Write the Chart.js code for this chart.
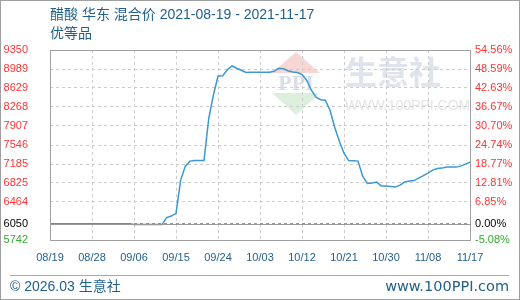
<!DOCTYPE html>
<html>
<head>
<meta charset="utf-8">
<script src="https://cdn.jsdelivr.net/npm/chart.js@4.4.1/dist/chart.umd.min.js"></script>
<style>
  html, body { margin: 0; padding: 0; background: #fff; }
  #wrap { width: 520px; height: 300px; position: relative; }
</style>
</head>
<body>
<div id="wrap"><canvas id="priceChart" width="520" height="300"></canvas></div>
<script>
// 醋酸 华东 混合价, daily price 2021-08-19 .. 2021-11-17 (day index 0..90)
const titleText = '醋酸 华东 混合价 2021-08-19 - 2021-11-17';
const subTitle = '优等品';

const xTickDays = [0, 9, 18, 27, 36, 45, 54, 63, 72, 81, 90];
const xTickLabels = ['08/19', '08/28', '09/06', '09/15', '09/24', '10/03', '10/12', '10/21', '10/30', '11/08', '11/17'];

const yTicks = [9350, 8989, 8629, 8268, 7907, 7546, 7185, 6825, 6464, 6050, 5742];
const pctLabels = ['54.56%', '48.59%', '42.63%', '36.67%', '30.70%', '24.74%', '18.77%', '12.81%', '6.85%', '0.00%', '-5.08%'];
const baseValue = 6050;

const prices = [
  6050, 6050, 6050, 6050, 6050, 6050, 6050, 6050, 6050, 6050,
  6050, 6050, 6050, 6050, 6050, 6050, 6050, 6050, 6035, 6035,
  6035, 6035, 6035, 6035, 6035, 6169, 6197, 6248, 6880, 7145,
  7240, 7253, 7253, 7253, 8036, 8491, 8851, 8861, 8975, 9047,
  9003, 8965, 8922, 8927, 8927, 8927, 8927, 8927, 8946, 9003,
  8994, 8956, 8933, 8922, 8889, 8776, 8586, 8453, 8406, 8396,
  8207, 7884, 7619, 7391, 7249, 7245, 7240, 6955, 6817, 6823,
  6842, 6766, 6766, 6756, 6747, 6785, 6842, 6861, 6870, 6917,
  6965, 7012, 7069, 7098, 7107, 7126, 7126, 7126, 7145, 7183,
  7221
];

const blue = '#1f5f8c';
const labelFont = { family: 'Liberation Sans', size: 11 };

function tickColor(ctx) {
  const v = ctx.tick.value;
  if (v > baseValue) return '#ff3333';
  if (v === baseValue) return '#000000';
  return '#33aa33';
}

const decorPlugin = {
  id: 'decor',
  beforeDraw(chart) {
    const c = chart.ctx;
    c.save();
    c.fillStyle = '#ffffff';
    c.fillRect(0, 0, chart.width, chart.height);
    // watermark logo
    c.fillStyle = '#f8d6d6';
    c.beginPath();
    c.moveTo(296, 52); c.lineTo(320, 73); c.lineTo(272, 73); c.closePath(); c.fill();
    c.fillStyle = '#dcefdc';
    c.beginPath();
    c.moveTo(272, 93); c.lineTo(320, 93); c.lineTo(296, 115); c.closePath(); c.fill();
    c.fillStyle = '#d9deea';
    c.font = 'bold 22px "Liberation Serif"';
    c.textAlign = 'center';
    c.textBaseline = 'middle';
    c.fillText('PPI', 296, 84);
    c.font = 'bold 32px "Noto Sans CJK SC"';
    c.fillStyle = '#dfe3ec';
    c.textAlign = 'left';
    c.fillText('生意社', 345, 72);
    c.font = '14px "Liberation Sans"';
    c.fillStyle = '#e4e4e4';
    c.fillText('WWW.100PPI.COM', 345, 106);
    c.restore();
  },
  afterDraw(chart) {
    const c = chart.ctx;
    const a = chart.chartArea;
    const y = chart.scales.y;
    c.save();
    // baseline at 0%
    c.strokeStyle = '#999999';
    c.lineWidth = 1;
    const by = Math.round(y.getPixelForValue(baseValue)) + 0.5;
    c.beginPath(); c.moveTo(a.left, by); c.lineTo(a.right, by); c.stroke();
    // plot frame
    c.strokeStyle = '#a0a0a0';
    c.strokeRect(Math.round(a.left) + 0.5, Math.round(a.top) + 0.5, Math.round(a.right - a.left), Math.round(a.bottom - a.top));
    // titles
    c.fillStyle = blue;
    c.font = '14px "Liberation Sans", "Noto Sans CJK SC"';
    c.textAlign = 'left';
    c.textBaseline = 'middle';
    c.fillText(titleText, 50, 15);
    c.fillText(subTitle, 50, 34);
    // footer
    c.strokeStyle = '#aaaaaa';
    c.beginPath(); c.moveTo(10, 275.5); c.lineTo(509, 275.5); c.stroke();
    c.font = '14px "Liberation Sans", "Noto Sans CJK SC"';
    c.fillText('© 2026.03 生意社', 10, 287);
    c.textAlign = 'right';
    c.font = '14.5px "DejaVu Sans"';
    c.fillText('www.100PPI.com', 509, 287);
    // outer frame
    c.strokeStyle = '#a0a0a0';
    c.strokeRect(0.5, 0.5, chart.width - 1, chart.height - 1);
    c.restore();
  }
};

const ctx = document.getElementById('priceChart').getContext('2d');
const priceChart = new Chart(ctx, {
  type: 'line',
  data: {
    datasets: [{
      label: '醋酸',
      data: prices.map((v, i) => ({ x: i, y: v })),
      borderColor: '#3a98d6',
      borderWidth: 1.5,
      pointRadius: 0,
      tension: 0,
      fill: false
    }]
  },
  options: {
    responsive: false,
    animation: false,
    devicePixelRatio: 1,
    layout: { padding: { top: 50, bottom: 30, left: 0, right: 0 } },
    plugins: {
      legend: { display: false },
      title: { display: false },
      tooltip: { enabled: false }
    },
    scales: {
      x: {
        type: 'linear',
        min: 0,
        max: 90,
        afterBuildTicks: s => { s.ticks = xTickDays.map(v => ({ value: v })); },
        afterFit: s => { s.height = 30; },
        ticks: {
          autoSkip: false,
          maxRotation: 0,
          padding: 11,
          color: blue,
          font: labelFont,
          callback: (v, i) => xTickLabels[i]
        },
        grid: { color: '#cccccc', drawTicks: false },
        border: { display: false, dash: [3, 3] }
      },
      y: {
        position: 'left',
        min: 5742,
        max: 9350,
        afterBuildTicks: s => { s.ticks = yTicks.map(v => ({ value: v })); },
        afterFit: s => { s.width = 50; },
        ticks: {
          autoSkip: false,
          padding: 22,
          color: tickColor,
          font: labelFont,
          callback: v => String(v)
        },
        grid: {
          drawTicks: false,
          color: c => (c.tick && c.tick.value === baseValue) ? '#999999' : '#cccccc'
        },
        border: { display: false, dash: [3, 3] }
      },
      y2: {
        position: 'right',
        min: 5742,
        max: 9350,
        afterBuildTicks: s => { s.ticks = yTicks.map(v => ({ value: v })); },
        afterFit: s => { s.width = 50; },
        ticks: {
          autoSkip: false,
          padding: 5,
          color: tickColor,
          font: labelFont,
          callback: (v, i) => pctLabels[i]
        },
        grid: { display: false, drawTicks: false },
        border: { display: false }
      }
    }
  },
  plugins: [decorPlugin]
});
</script>
</body>
</html>
